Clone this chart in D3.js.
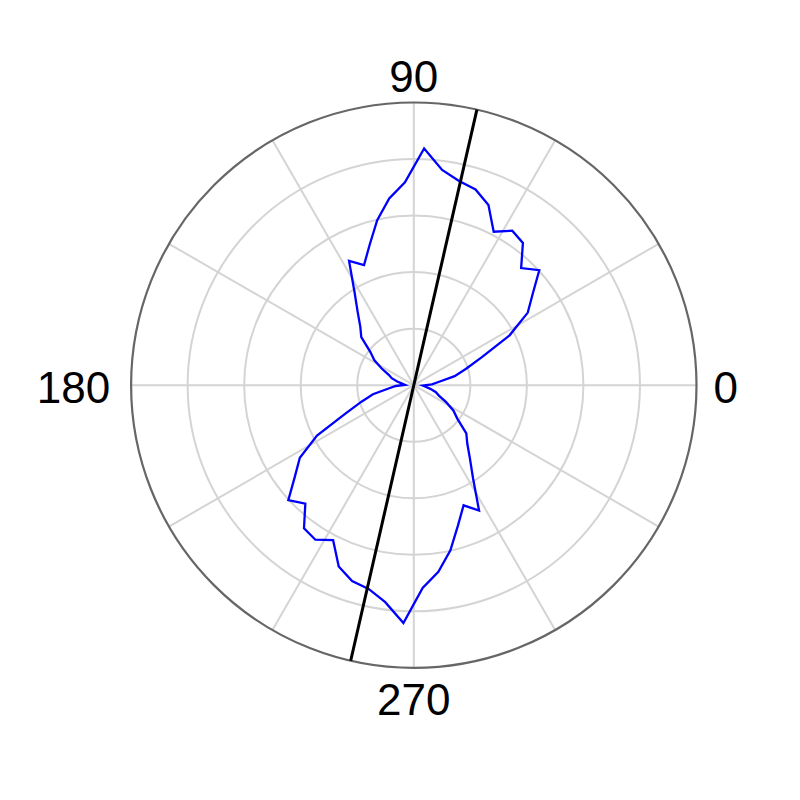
<!DOCTYPE html>
<html>
<head>
<meta charset="utf-8">
<script src="https://cdn.jsdelivr.net/npm/d3@7/dist/d3.min.js"></script>
<style>
  body { margin: 0; background: #ffffff; }
  svg { display: block; }
</style>
</head>
<body>
<svg id="chart" width="800" height="800"></svg>
<script>
// ---- data (angles in degrees, radii in ring units) ----
const binAngles = [
  2.5, 7.5, 12.5, 17.5, 22.5, 27.5, 32.5, 37.5, 42.5, 47.5, 52.5, 57.5,
  62.5, 67.5, 72.5, 77.5, 82.5, 87.5, 92.5, 97.5, 102.5, 107.5, 112.5, 117.5,
  122.5, 127.5, 132.5, 137.5, 142.5, 147.5, 152.5, 157.5, 162.5, 167.5, 172.5, 177.5,
  182.5, 187.5, 192.5, 197.5, 202.5, 207.5, 212.5, 217.5, 222.5, 227.5, 232.5, 237.5,
  242.5, 247.5, 252.5, 257.5, 262.5, 267.5, 272.5, 277.5, 282.5, 287.5, 292.5, 297.5,
  302.5, 307.5, 312.5, 317.5, 322.5, 327.5, 332.5, 337.5, 342.5, 347.5, 352.5, 357.5
];
const binValues = [
  0.32, 0.44, 0.74, 0.97, 1.31, 1.91, 2.39, 2.65, 3.01, 2.81, 3.17, 3.24,
  3.06, 3.45, 3.63, 3.70, 3.84, 4.19, 3.59, 3.33, 2.99, 2.60, 2.30, 2.48,
  1.95, 1.63, 1.40, 1.26, 0.97, 0.83, 0.64, 0.48, 0.41, 0.30, 0.21, 0.16,
  0.32, 0.45, 0.74, 0.97, 1.31, 1.93, 2.39, 2.65, 3.01, 2.84, 3.19, 3.24,
  3.09, 3.47, 3.63, 3.69, 3.87, 4.21, 3.59, 3.33, 2.99, 2.60, 2.30, 2.50,
  1.95, 1.63, 1.40, 1.26, 0.97, 0.83, 0.64, 0.48, 0.41, 0.30, 0.21, 0.16
];
const meanDirection = [77.1];
const ringValues = [1, 2, 3, 4];
const outerValue = [5];
const spokeAngles = [0, 30, 60, 90, 120, 150, 180, 210, 240, 270, 300, 330];
const thetaTickAngles = [0, 90, 180, 270];
const thetaTickLabels = ["0", "90", "180", "270"];

// ---- layout ----
const cx = 413.8, cy = 385.2, R = 282.7;
const svg = d3.select("#chart");
const g = svg.append("g").attr("transform", `translate(${cx},${cy})`);

const r = d3.scaleLinear().domain([0, 5]).range([0, R]);
// math angle (deg, ccw from east) -> d3 radial angle (rad, cw from north)
const toRad = d => (90 - d) * Math.PI / 180;

// grid rings
g.selectAll("circle.ring").data(ringValues).join("circle")
  .attr("class", "ring")
  .attr("r", d => r(d))
  .attr("fill", "none")
  .attr("stroke", "#d4d4d4")
  .attr("stroke-width", 2);

// spokes
g.selectAll("line.spoke").data(spokeAngles).join("line")
  .attr("class", "spoke")
  .attr("x1", 0).attr("y1", 0)
  .attr("x2", d => r(5) * Math.cos(d * Math.PI / 180))
  .attr("y2", d => -r(5) * Math.sin(d * Math.PI / 180))
  .attr("stroke", "#d4d4d4")
  .attr("stroke-width", 2);

// outer ring
g.selectAll("circle.outer").data(outerValue).join("circle")
  .attr("class", "outer")
  .attr("r", d => r(d))
  .attr("fill", "none")
  .attr("stroke", "#666666")
  .attr("stroke-width", 2.2);

// data line
const pts = binAngles.map((a, i) => ({ a, v: binValues[i] }));
const radial = d3.lineRadial()
  .angle(d => toRad(d.a))
  .radius(d => r(d.v))
  .curve(d3.curveLinearClosed);
g.append("path")
  .datum(pts)
  .attr("d", radial)
  .attr("fill", "none")
  .attr("stroke", "#0000ff")
  .attr("stroke-width", 2.3)
  .attr("stroke-linejoin", "miter");

// mean direction (axial) line
g.selectAll("line.mean").data(meanDirection).join("line")
  .attr("class", "mean")
  .attr("x1", d => r(5) * Math.cos(d * Math.PI / 180))
  .attr("y1", d => -r(5) * Math.sin(d * Math.PI / 180))
  .attr("x2", d => -r(5) * Math.cos(d * Math.PI / 180))
  .attr("y2", d => r(5) * Math.sin(d * Math.PI / 180))
  .attr("stroke", "#000000")
  .attr("stroke-width", 3);

// theta tick labels
const labelPos = {
  0:   { x: R + 17,  y: 17.3, anchor: "start" },
  90:  { x: 0,       y: -R - 11, anchor: "middle" },
  180: { x: -R - 21, y: 17.3, anchor: "end" },
  270: { x: 0,       y: R + 47, anchor: "middle" }
};
g.selectAll("text.tt").data(thetaTickAngles).join("text")
  .attr("class", "tt")
  .attr("x", d => labelPos[d].x)
  .attr("y", d => labelPos[d].y)
  .attr("text-anchor", d => labelPos[d].anchor)
  .attr("font-family", "'Liberation Sans', Arial, Helvetica, sans-serif")
  .attr("font-size", 44)
  .attr("fill", "#000")
  .text((d, i) => thetaTickLabels[i]);
</script>
</body>
</html>
